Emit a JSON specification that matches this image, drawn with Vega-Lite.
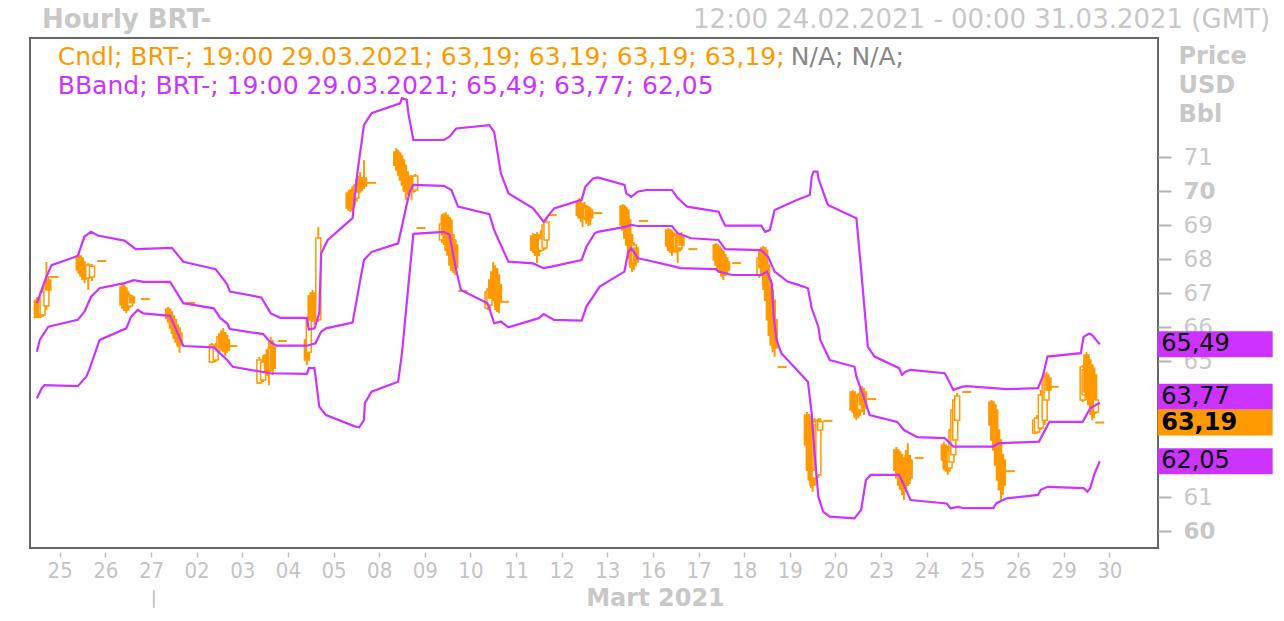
{
"$schema": "https://vega.github.io/schema/vega-lite/v6.json",
"width": 1128,
"height": 510,
"autosize": "none",
"padding": {"left": 30, "top": 38, "right": 126, "bottom": 73},
"background": "#ffffff",
"config": {"view": {"stroke": "#666666", "strokeWidth": 2}, "axis": {"grid": false, "domain": false}},
"datasets": {
"candles": [
{"h":-12,"o":66.79,"hi":66.88,"lo":66.26,"c":66.29},{"h":-11,"o":66.71,"hi":66.85,"lo":66.26,"c":66.32},{"h":-10,"o":66.32,"hi":66.79,"lo":66.26,"c":66.74},{"h":-9,"o":66.35,"hi":67.15,"lo":66.29,"c":67.03},{"h":-7,"o":66.62,"hi":67.91,"lo":66.5,"c":67.29},{"h":-6,"o":67.38,"hi":67.5,"lo":67.0,"c":67.09},{"h":-3,"o":67.47,"hi":67.47,"lo":67.47,"c":67.47},
{"h":10,"o":68.09,"hi":68.15,"lo":67.62,"c":67.68},{"h":11,"o":68.03,"hi":68.09,"lo":67.5,"c":67.59},{"h":12,"o":67.91,"hi":68.03,"lo":67.38,"c":67.5},{"h":13,"o":67.82,"hi":67.91,"lo":67.29,"c":67.41},{"h":15,"o":67.44,"hi":67.88,"lo":67.09,"c":67.82},{"h":17,"o":67.47,"hi":67.85,"lo":67.35,"c":67.79},{"h":22,"o":67.94,"hi":67.94,"lo":67.94,"c":67.94},
{"h":33,"o":67.18,"hi":67.29,"lo":66.56,"c":66.65},{"h":34,"o":67.15,"hi":67.26,"lo":66.47,"c":66.56},{"h":35,"o":67.03,"hi":67.15,"lo":66.41,"c":66.5},{"h":36,"o":66.91,"hi":67.03,"lo":66.5,"c":66.62},{"h":37,"o":66.62,"hi":66.97,"lo":66.56,"c":66.91},{"h":38,"o":66.88,"hi":66.94,"lo":66.62,"c":66.71},{"h":45,"o":66.82,"hi":66.82,"lo":66.82,"c":66.82},
{"h":57,"o":66.53,"hi":66.59,"lo":66.21,"c":66.26},{"h":58,"o":66.44,"hi":66.53,"lo":66.06,"c":66.15},{"h":59,"o":66.32,"hi":66.44,"lo":65.91,"c":65.97},{"h":60,"o":66.21,"hi":66.32,"lo":65.74,"c":65.82},{"h":61,"o":66.06,"hi":66.18,"lo":65.56,"c":65.68},{"h":62,"o":65.97,"hi":66.06,"lo":65.41,"c":65.56},{"h":63,"o":65.82,"hi":65.91,"lo":65.24,"c":65.47},{"h":69,"o":66.71,"hi":66.71,"lo":66.71,"c":66.71},
{"h":80,"o":64.97,"hi":65.53,"lo":64.94,"c":65.47},{"h":82,"o":65.03,"hi":65.53,"lo":64.97,"c":65.38},{"h":84,"o":65.32,"hi":65.82,"lo":65.26,"c":65.71},{"h":85,"o":65.79,"hi":65.91,"lo":65.32,"c":65.38},{"h":86,"o":65.82,"hi":65.97,"lo":65.26,"c":65.41},{"h":87,"o":65.74,"hi":65.85,"lo":65.15,"c":65.32},{"h":88,"o":65.62,"hi":65.76,"lo":65.24,"c":65.32},{"h":91,"o":65.44,"hi":65.44,"lo":65.44,"c":65.44},
{"h":105,"o":64.35,"hi":65.12,"lo":64.32,"c":65.03},{"h":107,"o":64.44,"hi":65.18,"lo":64.38,"c":64.97},{"h":109,"o":65.18,"hi":65.32,"lo":64.56,"c":64.68},{"h":110,"o":65.32,"hi":65.56,"lo":64.29,"c":64.88},{"h":111,"o":64.74,"hi":65.71,"lo":64.68,"c":65.38},{"h":112,"o":65.41,"hi":65.62,"lo":64.59,"c":64.79},{"h":117,"o":65.59,"hi":65.59,"lo":65.59,"c":65.59},
{"h":130,"o":65.62,"hi":65.74,"lo":64.88,"c":65.03},{"h":131,"o":65.26,"hi":66.35,"lo":65.09,"c":66.21},{"h":132,"o":66.91,"hi":67.03,"lo":66.15,"c":66.21},{"h":133,"o":66.97,"hi":67.09,"lo":66.15,"c":66.26},{"h":134,"o":66.91,"hi":67.03,"lo":66.06,"c":66.26},{"h":136,"o":66.21,"hi":68.94,"lo":66.15,"c":68.62},
{"h":152,"o":69.94,"hi":70.03,"lo":69.44,"c":69.5},{"h":153,"o":69.88,"hi":70.0,"lo":69.38,"c":69.44},{"h":154,"o":70.03,"hi":70.15,"lo":69.47,"c":69.59},{"h":155,"o":70.09,"hi":70.21,"lo":69.62,"c":69.74},{"h":156,"o":69.79,"hi":70.26,"lo":69.68,"c":70.15},{"h":157,"o":70.32,"hi":70.44,"lo":69.85,"c":69.97},{"h":158,"o":70.38,"hi":70.56,"lo":69.97,"c":70.03},{"h":160,"o":70.38,"hi":70.91,"lo":70.06,"c":70.15},{"h":164,"o":70.24,"hi":70.24,"lo":70.24,"c":70.24},
{"h":177,"o":71.15,"hi":71.26,"lo":70.68,"c":70.76},{"h":178,"o":71.12,"hi":71.21,"lo":70.56,"c":70.62},{"h":179,"o":71.03,"hi":71.12,"lo":70.38,"c":70.47},{"h":180,"o":70.91,"hi":71.06,"lo":70.18,"c":70.32},{"h":181,"o":70.76,"hi":70.91,"lo":69.97,"c":70.18},{"h":182,"o":70.56,"hi":70.68,"lo":69.74,"c":70.03},{"h":183,"o":70.44,"hi":70.56,"lo":69.88,"c":70.09},{"h":185,"o":70.38,"hi":70.47,"lo":69.74,"c":69.97},{"h":187,"o":70.03,"hi":70.5,"lo":69.97,"c":70.44},{"h":190,"o":68.91,"hi":68.91,"lo":68.91,"c":68.91},
{"h":201,"o":68.56,"hi":69.32,"lo":68.47,"c":69.03},{"h":202,"o":69.26,"hi":69.35,"lo":68.41,"c":68.71},{"h":203,"o":69.29,"hi":69.38,"lo":68.41,"c":68.56},{"h":204,"o":69.21,"hi":69.29,"lo":68.12,"c":68.26},{"h":205,"o":69.15,"hi":69.21,"lo":67.97,"c":68.12},{"h":206,"o":68.71,"hi":68.85,"lo":67.68,"c":67.82},{"h":207,"o":68.56,"hi":68.68,"lo":67.59,"c":67.68},{"h":208,"o":68.41,"hi":68.56,"lo":67.53,"c":67.74},{"h":212,"o":67.06,"hi":67.06,"lo":67.06,"c":67.06},
{"h":225,"o":66.56,"hi":67.15,"lo":66.5,"c":67.03},{"h":226,"o":66.65,"hi":67.24,"lo":66.56,"c":67.09},{"h":227,"o":67.38,"hi":67.53,"lo":66.74,"c":66.85},{"h":228,"o":67.62,"hi":67.91,"lo":66.79,"c":66.94},{"h":229,"o":67.68,"hi":67.82,"lo":66.5,"c":66.79},{"h":230,"o":67.53,"hi":67.74,"lo":66.44,"c":66.65},{"h":231,"o":67.24,"hi":67.38,"lo":66.41,"c":66.79},{"h":234,"o":66.74,"hi":66.74,"lo":66.74,"c":66.74},
{"h":249,"o":68.68,"hi":68.76,"lo":68.18,"c":68.26},{"h":250,"o":68.62,"hi":68.71,"lo":68.09,"c":68.21},{"h":251,"o":68.71,"hi":68.79,"lo":67.88,"c":68.12},{"h":252,"o":68.56,"hi":68.68,"lo":68.09,"c":68.26},{"h":253,"o":68.26,"hi":68.85,"lo":68.21,"c":68.62},{"h":255,"o":68.32,"hi":69.15,"lo":68.26,"c":69.0},{"h":256,"o":68.56,"hi":69.21,"lo":68.47,"c":69.09},{"h":259,"o":69.29,"hi":69.29,"lo":69.29,"c":69.29},
{"h":273,"o":69.65,"hi":69.79,"lo":69.21,"c":69.29},{"h":274,"o":69.59,"hi":69.74,"lo":69.09,"c":69.21},{"h":275,"o":69.53,"hi":69.65,"lo":68.94,"c":69.24},{"h":276,"o":69.56,"hi":69.68,"lo":69.15,"c":69.32},{"h":277,"o":69.21,"hi":69.59,"lo":69.03,"c":69.5},{"h":278,"o":69.47,"hi":69.56,"lo":68.97,"c":69.15},{"h":279,"o":69.44,"hi":69.53,"lo":69.0,"c":69.21},{"h":283,"o":69.35,"hi":69.35,"lo":69.35,"c":69.35},
{"h":296,"o":69.56,"hi":69.62,"lo":68.91,"c":69.0},{"h":297,"o":69.5,"hi":69.59,"lo":68.71,"c":68.85},{"h":298,"o":69.44,"hi":69.53,"lo":68.5,"c":68.62},{"h":299,"o":69.15,"hi":69.29,"lo":68.12,"c":68.41},{"h":300,"o":68.71,"hi":68.85,"lo":67.74,"c":68.03},{"h":301,"o":68.41,"hi":68.56,"lo":67.62,"c":67.82},{"h":302,"o":67.91,"hi":68.5,"lo":67.68,"c":68.41},{"h":303,"o":68.32,"hi":68.44,"lo":67.79,"c":67.91},{"h":307,"o":69.12,"hi":69.12,"lo":69.12,"c":69.12},
{"h":320,"o":68.85,"hi":68.91,"lo":68.32,"c":68.38},{"h":321,"o":68.79,"hi":68.88,"lo":68.18,"c":68.26},{"h":322,"o":68.74,"hi":68.85,"lo":68.09,"c":68.21},{"h":323,"o":68.68,"hi":68.79,"lo":68.21,"c":68.32},{"h":324,"o":68.26,"hi":68.76,"lo":68.18,"c":68.68},{"h":325,"o":68.62,"hi":68.74,"lo":67.88,"c":68.26},{"h":326,"o":68.32,"hi":68.76,"lo":68.21,"c":68.68},{"h":327,"o":68.68,"hi":68.79,"lo":68.26,"c":68.41},{"h":333,"o":68.29,"hi":68.29,"lo":68.29,"c":68.29},
{"h":345,"o":68.41,"hi":68.47,"lo":67.82,"c":67.97},{"h":346,"o":68.35,"hi":68.44,"lo":67.68,"c":67.82},{"h":347,"o":68.26,"hi":68.38,"lo":67.62,"c":67.74},{"h":348,"o":68.21,"hi":68.32,"lo":67.47,"c":67.62},{"h":349,"o":68.12,"hi":68.26,"lo":67.38,"c":67.53},{"h":350,"o":68.03,"hi":68.15,"lo":67.5,"c":67.62},{"h":351,"o":67.91,"hi":68.03,"lo":67.56,"c":67.68},{"h":356,"o":67.88,"hi":67.88,"lo":67.88,"c":67.88},
{"h":368,"o":67.53,"hi":68.12,"lo":67.44,"c":68.03},{"h":369,"o":68.26,"hi":68.32,"lo":67.53,"c":67.74},{"h":370,"o":68.32,"hi":68.38,"lo":67.09,"c":67.53},{"h":371,"o":68.26,"hi":68.35,"lo":66.79,"c":67.24},{"h":372,"o":67.82,"hi":67.97,"lo":66.5,"c":66.79},{"h":373,"o":67.38,"hi":67.53,"lo":65.91,"c":66.21},{"h":374,"o":67.09,"hi":67.24,"lo":65.47,"c":65.76},{"h":375,"o":66.79,"hi":66.94,"lo":65.26,"c":65.47},{"h":376,"o":66.21,"hi":66.35,"lo":65.12,"c":65.38},{"h":380,"o":64.82,"hi":64.82,"lo":64.82,"c":64.82},
{"h":393,"o":63.41,"hi":63.5,"lo":62.24,"c":62.53},{"h":394,"o":63.32,"hi":63.44,"lo":61.5,"c":61.79},{"h":395,"o":63.26,"hi":63.38,"lo":61.26,"c":61.5},{"h":396,"o":62.97,"hi":63.26,"lo":61.15,"c":61.35},{"h":397,"o":61.56,"hi":63.32,"lo":61.5,"c":63.21},{"h":398,"o":61.79,"hi":63.26,"lo":61.65,"c":63.12},{"h":399,"o":61.65,"hi":63.32,"lo":61.56,"c":63.26},{"h":400,"o":62.97,"hi":63.32,"lo":62.82,"c":63.21},{"h":404,"o":63.24,"hi":63.24,"lo":63.24,"c":63.24},
{"h":417,"o":64.09,"hi":64.15,"lo":63.5,"c":63.56},{"h":418,"o":64.0,"hi":64.09,"lo":63.32,"c":63.5},{"h":419,"o":63.85,"hi":64.0,"lo":63.26,"c":63.41},{"h":420,"o":63.91,"hi":64.06,"lo":63.32,"c":63.5},{"h":421,"o":63.56,"hi":64.21,"lo":63.38,"c":64.0},{"h":422,"o":64.15,"hi":64.26,"lo":63.5,"c":63.71},{"h":423,"o":64.09,"hi":64.21,"lo":63.41,"c":63.62},{"h":427,"o":63.88,"hi":63.88,"lo":63.88,"c":63.88},
{"h":440,"o":62.38,"hi":62.47,"lo":61.65,"c":61.79},{"h":441,"o":62.32,"hi":62.38,"lo":61.35,"c":61.56},{"h":442,"o":62.24,"hi":62.32,"lo":61.21,"c":61.35},{"h":443,"o":62.09,"hi":62.24,"lo":61.06,"c":61.26},{"h":444,"o":62.03,"hi":62.15,"lo":60.91,"c":61.21},{"h":445,"o":62.15,"hi":62.38,"lo":61.15,"c":61.35},{"h":446,"o":62.21,"hi":62.59,"lo":61.32,"c":61.5},{"h":447,"o":62.09,"hi":62.24,"lo":61.38,"c":61.56},{"h":452,"o":62.15,"hi":62.15,"lo":62.15,"c":62.15},
{"h":465,"o":62.53,"hi":62.62,"lo":61.79,"c":62.09},{"h":466,"o":62.44,"hi":62.53,"lo":61.74,"c":61.85},{"h":467,"o":62.38,"hi":62.5,"lo":61.65,"c":61.79},{"h":468,"o":61.85,"hi":62.68,"lo":61.74,"c":62.38},{"h":469,"o":62.03,"hi":63.12,"lo":61.94,"c":62.97},{"h":470,"o":62.24,"hi":63.71,"lo":62.15,"c":63.56},{"h":471,"o":62.68,"hi":63.97,"lo":62.53,"c":63.85},{"h":472,"o":63.26,"hi":64.06,"lo":63.12,"c":63.97},{"h":477,"o":64.09,"hi":64.09,"lo":64.09,"c":64.09},
{"h":490,"o":63.79,"hi":63.85,"lo":62.97,"c":63.12},{"h":491,"o":63.71,"hi":63.82,"lo":62.53,"c":62.68},{"h":492,"o":63.56,"hi":63.71,"lo":62.24,"c":62.38},{"h":493,"o":62.97,"hi":63.12,"lo":61.79,"c":61.94},{"h":494,"o":62.68,"hi":62.82,"lo":61.21,"c":61.5},{"h":495,"o":62.24,"hi":62.38,"lo":60.91,"c":61.21},{"h":496,"o":62.09,"hi":62.24,"lo":61.06,"c":61.35},{"h":500,"o":61.76,"hi":61.76,"lo":61.76,"c":61.76},
{"h":513,"o":62.88,"hi":63.32,"lo":62.85,"c":63.26},{"h":514,"o":62.91,"hi":63.41,"lo":62.88,"c":63.32},{"h":516,"o":63.03,"hi":64.15,"lo":62.97,"c":64.0},{"h":518,"o":63.26,"hi":64.65,"lo":63.12,"c":64.5},{"h":519,"o":63.85,"hi":64.68,"lo":63.71,"c":64.53},{"h":520,"o":64.5,"hi":64.62,"lo":64.0,"c":64.15},{"h":523,"o":64.24,"hi":64.24,"lo":64.24,"c":64.24},
{"h":538,"o":63.85,"hi":64.88,"lo":63.79,"c":64.82},{"h":539,"o":64.0,"hi":65.03,"lo":63.91,"c":64.74},{"h":540,"o":65.18,"hi":65.26,"lo":63.85,"c":64.09},{"h":541,"o":65.03,"hi":65.18,"lo":63.71,"c":63.91},{"h":542,"o":64.88,"hi":65.03,"lo":63.41,"c":63.71},{"h":543,"o":64.79,"hi":64.88,"lo":63.26,"c":63.56},{"h":544,"o":64.59,"hi":64.74,"lo":63.32,"c":63.5},{"h":545,"o":63.5,"hi":64.0,"lo":63.44,"c":63.85},{"h":547,"o":63.19,"hi":63.19,"lo":63.19,"c":63.19}
],
"bands": [
{"b":"upper","h":-12,"v":66.7},{"b":"upper","h":-7,"v":67.48},{"b":"upper","h":-4.3,"v":67.82},{"b":"upper","h":9.5,"v":68.09},{"b":"upper","h":13,"v":68.66},{"b":"upper","h":16.5,"v":68.8},{"b":"upper","h":20,"v":68.69},{"b":"upper","h":34,"v":68.54},{"b":"upper","h":40,"v":68.29},{"b":"upper","h":59,"v":68.33},{"b":"upper","h":65,"v":67.92},{"b":"upper","h":82,"v":67.7},{"b":"upper","h":88,"v":67.26},{"b":"upper","h":89.5,"v":67.04},{"b":"upper","h":106,"v":66.87},{"b":"upper","h":111,"v":66.4},{"b":"upper","h":116,"v":66.27},{"b":"upper","h":130,"v":66.27},{"b":"upper","h":131,"v":65.93},{"b":"upper","h":134,"v":65.96},{"b":"upper","h":136.5,"v":66.4},{"b":"upper","h":137.5,"v":68.17},{"b":"upper","h":141,"v":68.56},{"b":"upper","h":154,"v":69.2},{"b":"upper","h":156.5,"v":70.52},{"b":"upper","h":160,"v":71.94},{"b":"upper","h":164,"v":72.29},{"b":"upper","h":179,"v":72.58},{"b":"upper","h":180,"v":72.73},{"b":"upper","h":182.5,"v":72.68},{"b":"upper","h":183.5,"v":72.24},{"b":"upper","h":186,"v":71.5},{"b":"upper","h":202,"v":71.5},{"b":"upper","h":205,"v":71.6},{"b":"upper","h":208.5,"v":71.84},{"b":"upper","h":226,"v":71.94},{"b":"upper","h":228.5,"v":71.74},{"b":"upper","h":232,"v":70.52},{"b":"upper","h":236,"v":69.93},{"b":"upper","h":249,"v":69.49},{"b":"upper","h":254.5,"v":69.1},{"b":"upper","h":260,"v":69.49},{"b":"upper","h":274.5,"v":69.74},{"b":"upper","h":276.5,"v":70.13},{"b":"upper","h":280.5,"v":70.37},{"b":"upper","h":283,"v":70.4},{"b":"upper","h":297,"v":70.18},{"b":"upper","h":298,"v":69.93},{"b":"upper","h":300.5,"v":69.83},{"b":"upper","h":304,"v":69.98},{"b":"upper","h":308.5,"v":70.03},{"b":"upper","h":322,"v":70.03},{"b":"upper","h":325,"v":69.79},{"b":"upper","h":330,"v":69.54},{"b":"upper","h":346.5,"v":69.39},{"b":"upper","h":348.5,"v":69.15},{"b":"upper","h":350,"v":68.98},{"b":"upper","h":369,"v":68.98},{"b":"upper","h":371,"v":68.8},{"b":"upper","h":373.5,"v":68.85},{"b":"upper","h":376,"v":69.44},{"b":"upper","h":388,"v":69.74},{"b":"upper","h":394.5,"v":69.88},{"b":"upper","h":395.5,"v":70.42},{"b":"upper","h":396.5,"v":70.57},{"b":"upper","h":398.5,"v":70.57},{"b":"upper","h":399,"v":70.37},{"b":"upper","h":404,"v":69.59},{"b":"upper","h":419,"v":69.2},{"b":"upper","h":421.5,"v":67.68},{"b":"upper","h":425,"v":65.42},{"b":"upper","h":428.5,"v":65.13},{"b":"upper","h":441.5,"v":64.79},{"b":"upper","h":443,"v":64.59},{"b":"upper","h":445,"v":64.69},{"b":"upper","h":447.5,"v":64.74},{"b":"upper","h":465.5,"v":64.64},{"b":"upper","h":470,"v":64.15},{"b":"upper","h":474.5,"v":64.24},{"b":"upper","h":477,"v":64.26},{"b":"upper","h":498,"v":64.17},{"b":"upper","h":514.5,"v":64.2},{"b":"upper","h":517,"v":64.54},{"b":"upper","h":519.5,"v":65.13},{"b":"upper","h":537,"v":65.23},{"b":"upper","h":538.5,"v":65.71},{"b":"upper","h":541.5,"v":65.81},{"b":"upper","h":543,"v":65.76},{"b":"upper","h":547,"v":65.49},
{"b":"middle","h":-12,"v":65.27},{"b":"middle","h":-10.5,"v":65.62},{"b":"middle","h":-6,"v":66.01},{"b":"middle","h":9.5,"v":66.21},{"b":"middle","h":13,"v":66.45},{"b":"middle","h":16.5,"v":66.89},{"b":"middle","h":21,"v":67.14},{"b":"middle","h":34,"v":67.29},{"b":"middle","h":39,"v":67.38},{"b":"middle","h":44,"v":67.33},{"b":"middle","h":58,"v":67.33},{"b":"middle","h":65,"v":66.7},{"b":"middle","h":81,"v":66.55},{"b":"middle","h":84.5,"v":66.26},{"b":"middle","h":88,"v":66.11},{"b":"middle","h":89.5,"v":65.94},{"b":"middle","h":107,"v":65.79},{"b":"middle","h":110.5,"v":65.57},{"b":"middle","h":114,"v":65.45},{"b":"middle","h":130,"v":65.45},{"b":"middle","h":134.5,"v":65.52},{"b":"middle","h":137.5,"v":65.86},{"b":"middle","h":140,"v":65.96},{"b":"middle","h":154,"v":66.13},{"b":"middle","h":160,"v":67.97},{"b":"middle","h":164,"v":68.21},{"b":"middle","h":178,"v":68.46},{"b":"middle","h":184,"v":69.98},{"b":"middle","h":186,"v":70.18},{"b":"middle","h":202,"v":70.15},{"b":"middle","h":206,"v":70.03},{"b":"middle","h":209.5,"v":69.54},{"b":"middle","h":226,"v":69.32},{"b":"middle","h":228.5,"v":68.85},{"b":"middle","h":232,"v":68.41},{"b":"middle","h":236,"v":67.92},{"b":"middle","h":249,"v":67.87},{"b":"middle","h":254.5,"v":67.73},{"b":"middle","h":258,"v":67.77},{"b":"middle","h":274.5,"v":67.97},{"b":"middle","h":277,"v":68.36},{"b":"middle","h":281.5,"v":68.76},{"b":"middle","h":283,"v":68.8},{"b":"middle","h":298,"v":68.95},{"b":"middle","h":300.5,"v":69.0},{"b":"middle","h":304,"v":68.97},{"b":"middle","h":322,"v":68.97},{"b":"middle","h":325,"v":68.76},{"b":"middle","h":332,"v":68.61},{"b":"middle","h":346.5,"v":68.56},{"b":"middle","h":350,"v":68.29},{"b":"middle","h":369,"v":68.26},{"b":"middle","h":372.5,"v":68.07},{"b":"middle","h":376,"v":67.63},{"b":"middle","h":383,"v":67.33},{"b":"middle","h":388.5,"v":67.24},{"b":"middle","h":393.5,"v":67.14},{"b":"middle","h":395.5,"v":66.55},{"b":"middle","h":399,"v":66.01},{"b":"middle","h":400,"v":65.62},{"b":"middle","h":405,"v":65.03},{"b":"middle","h":418,"v":64.83},{"b":"middle","h":419,"v":64.54},{"b":"middle","h":422.5,"v":64.0},{"b":"middle","h":426,"v":63.41},{"b":"middle","h":440.5,"v":63.21},{"b":"middle","h":444,"v":62.97},{"b":"middle","h":451,"v":62.76},{"b":"middle","h":465.5,"v":62.73},{"b":"middle","h":470,"v":62.48},{"b":"middle","h":491,"v":62.48},{"b":"middle","h":493.5,"v":62.58},{"b":"middle","h":515,"v":62.63},{"b":"middle","h":520.5,"v":63.21},{"b":"middle","h":538,"v":63.21},{"b":"middle","h":542,"v":63.61},{"b":"middle","h":547,"v":63.77},
{"b":"lower","h":-12,"v":63.9},{"b":"lower","h":-9.5,"v":64.2},{"b":"lower","h":-8,"v":64.29},{"b":"lower","h":9.5,"v":64.26},{"b":"lower","h":14,"v":64.54},{"b":"lower","h":15.5,"v":64.74},{"b":"lower","h":21,"v":65.62},{"b":"lower","h":35,"v":65.96},{"b":"lower","h":37.5,"v":66.3},{"b":"lower","h":41,"v":66.5},{"b":"lower","h":44,"v":66.4},{"b":"lower","h":58,"v":66.33},{"b":"lower","h":65,"v":65.44},{"b":"lower","h":81,"v":65.4},{"b":"lower","h":88,"v":65.03},{"b":"lower","h":91,"v":64.83},{"b":"lower","h":110.5,"v":64.64},{"b":"lower","h":130,"v":64.62},{"b":"lower","h":131,"v":64.79},{"b":"lower","h":134,"v":64.79},{"b":"lower","h":136.5,"v":63.66},{"b":"lower","h":140,"v":63.41},{"b":"lower","h":155.5,"v":63.07},{"b":"lower","h":157.5,"v":63.05},{"b":"lower","h":160,"v":63.26},{"b":"lower","h":160.5,"v":63.76},{"b":"lower","h":164,"v":64.1},{"b":"lower","h":178,"v":64.39},{"b":"lower","h":180,"v":65.23},{"b":"lower","h":183.5,"v":67.29},{"b":"lower","h":186,"v":68.74},{"b":"lower","h":202,"v":68.8},{"b":"lower","h":205,"v":68.71},{"b":"lower","h":208.5,"v":67.68},{"b":"lower","h":211,"v":67.09},{"b":"lower","h":225,"v":66.7},{"b":"lower","h":228.5,"v":66.11},{"b":"lower","h":232,"v":66.16},{"b":"lower","h":236,"v":65.99},{"b":"lower","h":252,"v":66.26},{"b":"lower","h":254.5,"v":66.38},{"b":"lower","h":260,"v":66.21},{"b":"lower","h":274.5,"v":66.19},{"b":"lower","h":277,"v":66.6},{"b":"lower","h":284,"v":67.19},{"b":"lower","h":297,"v":67.63},{"b":"lower","h":299,"v":68.21},{"b":"lower","h":300.5,"v":68.31},{"b":"lower","h":302.5,"v":68.17},{"b":"lower","h":304,"v":68.02},{"b":"lower","h":308.5,"v":67.97},{"b":"lower","h":324,"v":67.77},{"b":"lower","h":326.5,"v":67.73},{"b":"lower","h":345,"v":67.7},{"b":"lower","h":346.5,"v":67.63},{"b":"lower","h":353.5,"v":67.53},{"b":"lower","h":369,"v":67.53},{"b":"lower","h":372,"v":67.63},{"b":"lower","h":374.5,"v":67.29},{"b":"lower","h":375.5,"v":66.3},{"b":"lower","h":377,"v":65.62},{"b":"lower","h":379.5,"v":65.23},{"b":"lower","h":393.5,"v":64.39},{"b":"lower","h":395.5,"v":63.46},{"b":"lower","h":397,"v":62.29},{"b":"lower","h":399,"v":61.01},{"b":"lower","h":401.5,"v":60.57},{"b":"lower","h":405,"v":60.42},{"b":"lower","h":418,"v":60.37},{"b":"lower","h":421.5,"v":60.62},{"b":"lower","h":424,"v":61.5},{"b":"lower","h":426.5,"v":61.65},{"b":"lower","h":441.5,"v":61.65},{"b":"lower","h":444,"v":61.35},{"b":"lower","h":447.5,"v":60.91},{"b":"lower","h":466.5,"v":60.81},{"b":"lower","h":468.5,"v":60.67},{"b":"lower","h":472.5,"v":60.71},{"b":"lower","h":475.5,"v":60.67},{"b":"lower","h":491,"v":60.67},{"b":"lower","h":492.5,"v":60.81},{"b":"lower","h":498,"v":60.96},{"b":"lower","h":514.5,"v":61.06},{"b":"lower","h":516,"v":61.21},{"b":"lower","h":519.5,"v":61.3},{"b":"lower","h":538.5,"v":61.26},{"b":"lower","h":540.5,"v":61.16},{"b":"lower","h":542,"v":61.26},{"b":"lower","h":544,"v":61.65},{"b":"lower","h":547,"v":62.05}
],
"boxes": [
{"label":"63,77","v":63.77,"kind":"band"},
{"label":"65,49","v":65.49,"kind":"band"},
{"label":"62,05","v":62.05,"kind":"band"},
{"label":"63,19","v":63.19,"kind":"candle"}
]
},
"encoding": {
"x": {"type": "quantitative", "scale": {"domain": [-13, 575], "nice": false, "zero": false},
"axis": {"values": [0,24,48,72,96,120,144,168,192,216,240,264,288,312,336,360,384,408,432,456,480,504,528,552],
"labelExpr": "['25','26','27','02','03','04','05','08','09','10','11','12','13','16','17','18','19','20','23','24','25','26','29','30'][round(datum.value/24)]",
"offset": 4, "tickSize": 5, "tickColor": "#c0c0c0", "tickWidth": 1.5, "labelPadding": 3, "labelOverlap": false,
"labelFont": "DejaVu Sans Condensed, DejaVu Sans", "labelFontSize": 22, "labelColor": "#c4c4c4",
"title": "Mart 2021", "titleFont": "DejaVu Sans", "titleFontSize": 24, "titleFontWeight": "bold", "titleColor": "#c8c8c8",
"titleX": 625, "titleY": 53, "titleBaseline": "alphabetic", "titleAlign": "center"}},
"y": {"type": "quantitative", "scale": {"domain": [59.5, 74.5], "nice": false, "zero": false},
"axis": {"orient": "right", "values": [60,61,62,63,64,65,66,67,68,69,70,71], "tickSize": 13, "tickWidth": 2, "tickColor": "#b4b4b4",
"labelExpr": "indexof([62,63,64], datum.value) >= 0 ? '' : datum.label",
"labelPadding": 12, "labelFont": "DejaVu Sans", "labelFontSize": 23, "labelColor": "#c8c8c8",
"labelFontWeight": {"condition": {"test": "datum.value % 10 === 0", "value": "bold"}, "value": "normal"},
"title": ["Price", "USD", "Bbl"], "titleAngle": 0, "titleAlign": "left", "titleBaseline": "alphabetic", "titleX": 20, "titleY": 25,
"titleLineHeight": 29, "titleFont": "DejaVu Sans", "titleFontSize": 24, "titleFontWeight": "bold", "titleColor": "#c8c8c8"}}
},
"layer": [
{
"data": {"name": "candles"},
"mark": {"type": "rule", "color": "#ff9900", "strokeWidth": 2},
"encoding": {
"x": {"field": "h"},
"y": {"field": "lo"},
"y2": {"field": "hi"}
}
},
{
"data": {"name": "candles"},
"transform": [{"filter": "datum.hi != datum.lo"}],
"mark": {"type": "bar", "width": 5, "stroke": "#ff9900", "strokeWidth": 1.5},
"encoding": {
"x": {"field": "h"},
"y": {"field": "o"},
"y2": {"field": "c"},
"fill": {"condition": {"test": "datum.c > datum.o", "value": "#ffffff"}, "value": "#ff9900"}
}
},
{
"data": {"name": "candles"},
"transform": [{"filter": "datum.hi == datum.lo"}],
"mark": {"type": "tick", "orient": "horizontal", "size": 9, "thickness": 2, "color": "#ff9900", "opacity": 1},
"encoding": {
"x": {"field": "h"},
"y": {"field": "c"}
}
},
{
"data": {"name": "bands"},
"mark": {"type": "line", "color": "#cc33ff", "strokeWidth": 2.2},
"encoding": {
"x": {"field": "h"},
"y": {"field": "v"},
"detail": {"field": "b"}
}
},
{
"data": {"values": [{}]},
"mark": {"type": "text", "text": "Hourly BRT-", "align": "left", "baseline": "alphabetic", "font": "DejaVu Sans", "fontSize": 26, "fontWeight": "bold", "color": "#c8c8c8"},
"encoding": {"x": {"datum": -9.35}, "y": {"datum": 74.79}}
},
{
"data": {"values": [{}]},
"mark": {"type": "text", "text": "12:00 24.02.2021 - 00:00 31.03.2021 (GMT)", "align": "right", "baseline": "alphabetic", "font": "DejaVu Sans", "fontSize": 26, "color": "#c8c8c8"},
"encoding": {"x": {"datum": 636.6}, "y": {"datum": 74.79}}
},
{
"data": {"values": [{}]},
"mark": {"type": "text", "text": "Cndl; BRT-; 19:00 29.03.2021; 63,19; 63,19; 63,19; 63,19;", "align": "left", "baseline": "alphabetic", "font": "DejaVu Sans", "fontSize": 25, "color": "#ff9900"},
"encoding": {"x": {"datum": -1.0}, "y": {"datum": 73.71}}
},
{
"data": {"values": [{}]},
"mark": {"type": "text", "text": "N/A; N/A;", "align": "left", "baseline": "alphabetic", "font": "DejaVu Sans", "fontSize": 25, "color": "#888888"},
"encoding": {"x": {"datum": 384.5}, "y": {"datum": 73.71}}
},
{
"data": {"values": [{}]},
"mark": {"type": "text", "text": "BBand; BRT-; 19:00 29.03.2021; 65,49; 63,77; 62,05", "align": "left", "baseline": "alphabetic", "font": "DejaVu Sans", "fontSize": 25, "color": "#cc33ff"},
"encoding": {"x": {"datum": -1.0}, "y": {"datum": 72.85}}
},
{
"data": {"values": [{}]},
"mark": {"type": "rule", "color": "#c8c8c8", "strokeWidth": 2},
"encoding": {"x": {"datum": 49.5}, "y": {"datum": 58.26}, "y2": {"datum": 57.74}}
},
{
"data": {"name": "boxes"},
"transform": [{"filter": "datum.label == '63,77'"}],
"mark": {"type": "tick", "orient": "horizontal", "size": 115, "thickness": 26, "color": "#cc33ff", "opacity": 1, "yOffset": -6},
"encoding": {"x": {"datum": 607.7}, "y": {"field": "v"}}
},
{
"data": {"name": "boxes"},
"transform": [{"filter": "datum.label == '63,77'"}],
"mark": {"type": "text", "align": "left", "baseline": "middle", "font": "DejaVu Sans", "fontSize": 24, "color": "#000000", "yOffset": -6},
"encoding": {"x": {"datum": 579.3}, "y": {"field": "v"}, "text": {"field": "label"}}
},
{
"data": {"name": "boxes"},
"transform": [{"filter": "datum.kind == 'band' && datum.label != '63,77'"}],
"mark": {"type": "tick", "orient": "horizontal", "size": 115, "thickness": 26, "color": "#cc33ff", "opacity": 1},
"encoding": {"x": {"datum": 607.7}, "y": {"field": "v"}}
},
{
"data": {"name": "boxes"},
"transform": [{"filter": "datum.kind == 'band' && datum.label != '63,77'"}],
"mark": {"type": "text", "align": "left", "baseline": "middle", "font": "DejaVu Sans", "fontSize": 24, "color": "#000000"},
"encoding": {"x": {"datum": 579.3}, "y": {"field": "v"}, "text": {"field": "label"}}
},
{
"data": {"name": "boxes"},
"transform": [{"filter": "datum.kind == 'candle'"}],
"mark": {"type": "tick", "orient": "horizontal", "size": 115, "thickness": 26, "color": "#ff9900", "opacity": 1},
"encoding": {"x": {"datum": 607.7}, "y": {"field": "v"}}
},
{
"data": {"name": "boxes"},
"transform": [{"filter": "datum.kind == 'candle'"}],
"mark": {"type": "text", "align": "left", "baseline": "middle", "font": "DejaVu Sans", "fontSize": 24, "fontWeight": "bold", "color": "#000000"},
"encoding": {"x": {"datum": 579.3}, "y": {"field": "v"}, "text": {"field": "label"}}
}
]
}
